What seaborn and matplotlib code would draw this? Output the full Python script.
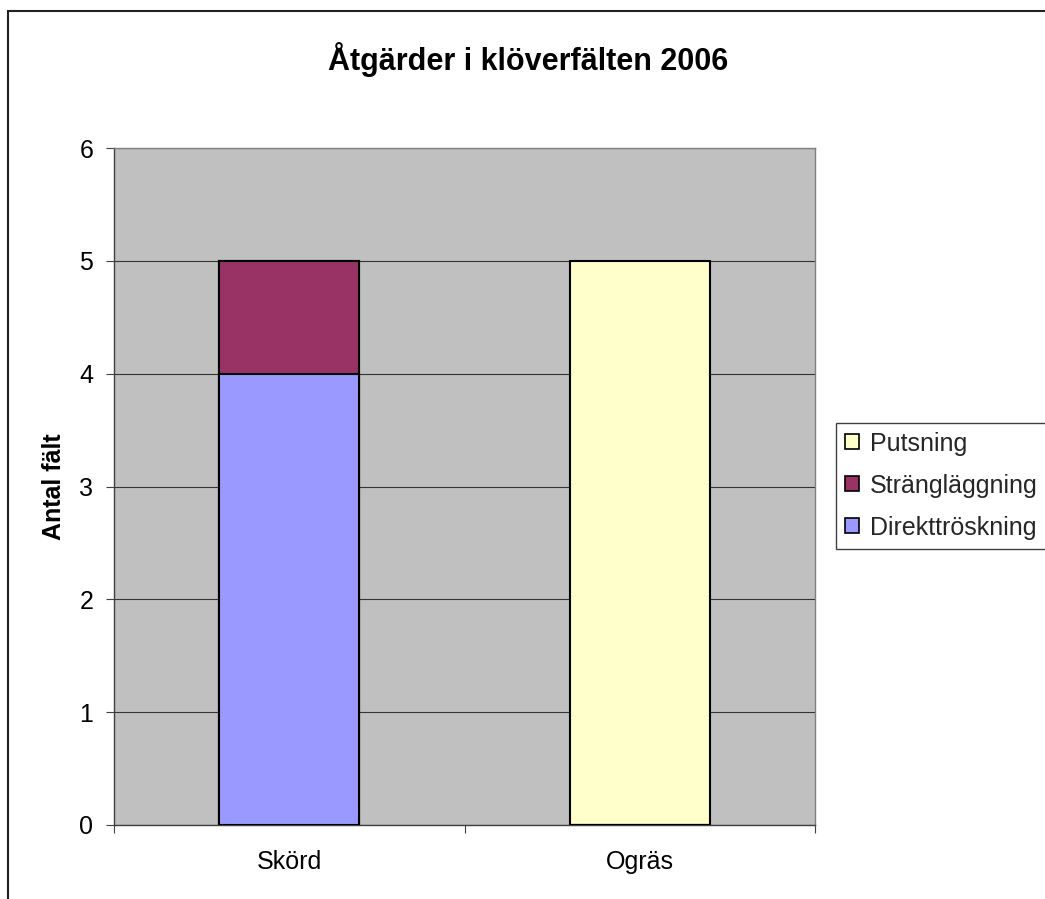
import matplotlib
matplotlib.use("Agg")
import matplotlib.pyplot as plt
import matplotlib.patches as mpatches
import numpy as np
import pandas as pd
import seaborn as sns

# ---- data ----
categories = ["Skörd", "Ogräs"]
direkttroskning = [4, 0]
stranglaggning = [1, 0]
putsning = [0, 5]
series_names = ["Direkttröskning", "Strängläggning", "Putsning"]
series_colors = ["#9999FF", "#993366", "#FFFFCC"]
yticks = [0, 1, 2, 3, 4, 5, 6]
title = "Åtgärder i klöverfälten 2006"
ylabel = "Antal fält"

sns.set_theme(style="white")
plt.rcParams["font.family"] = ["Liberation Sans", "DejaVu Sans"]

W, H = 1045, 899
fig = plt.figure(figsize=(W / 100, H / 100), dpi=100)
fig.patch.set_facecolor("white")

# plot area in pixels
L, T, R, B = 114, 148, 815, 825
ax = fig.add_axes([L / W, 1 - B / H, (R - L) / W, (B - T) / H])
ax.set_facecolor("#C0C0C0")

# stacked values, drawn from the top layer downwards
layers = [direkttroskning, stranglaggning, putsning]
cum = np.cumsum(np.array(layers, dtype=float), axis=0)
for i in range(len(layers) - 1, -1, -1):
    df = pd.DataFrame({"cat": categories, "val": cum[i]})
    sns.barplot(data=df, x="cat", y="val", color=series_colors[i], width=0.4,
                edgecolor="black", linewidth=1.5, saturation=1, ax=ax, zorder=3)

ax.set_xlim(-0.5, 1.5)
ax.set_ylim(0, 6)
ax.set_yticks(yticks)
ax.set_yticklabels([str(v) for v in yticks])
ax.yaxis.grid(True, color="#333333", linewidth=0.8, zorder=1)
ax.set_axisbelow(True)

ax.set_xlabel("")
ax.set_ylabel(ylabel, fontsize=18, fontweight="bold", color="black")
ax.yaxis.set_label_coords((66 - L) / (R - L), 0.5)

ax.tick_params(axis="y", which="major", direction="out", length=6, width=0.8,
               color="#404040", pad=9, labelsize=18, labelcolor="black", left=True)
ax.tick_params(axis="x", which="major", length=0, pad=18, labelsize=18,
               labelcolor="black", bottom=True)
ax.set_xticks([-0.5, 0.5, 1.5], minor=True)
ax.tick_params(axis="x", which="minor", direction="out", length=6, width=0.8,
               color="#404040", bottom=True)

for side in ["left", "bottom"]:
    ax.spines[side].set_color("#404040")
    ax.spines[side].set_linewidth(1.0)
for side in ["top", "right"]:
    ax.spines[side].set_color("#808080")
    ax.spines[side].set_linewidth(1.0)
    ax.spines[side].set_visible(True)

fig.text(528 / W, 1 - 60 / H, title, ha="center", va="center",
         fontsize=22, fontweight="bold", color="black")

handles = [mpatches.Patch(facecolor=series_colors[i], edgecolor="black", linewidth=1.2,
                          label=series_names[i]) for i in [2, 1, 0]]
leg = fig.legend(handles=handles, loc="upper left",
                 bbox_to_anchor=(836 / W, 1 - 423 / H), bbox_transform=fig.transFigure,
                 fontsize=18, frameon=True, fancybox=False, shadow=False, framealpha=1,
                 edgecolor="#404040", handlelength=0.55, handleheight=0.55,
                 handletextpad=0.45, borderpad=0.35, labelspacing=0.72, borderaxespad=0)
leg.get_frame().set_linewidth(1.0)

# outer chart border (clipped at right and bottom)
border = mpatches.Rectangle((8 / W, -0.1), 1.2, 1 - 11 / H + 0.1,
                            transform=fig.transFigure, fill=False,
                            edgecolor="#222222", linewidth=1.5, zorder=0)
fig.patches.append(border)

fig.savefig("out.png", dpi=100, facecolor="white")
